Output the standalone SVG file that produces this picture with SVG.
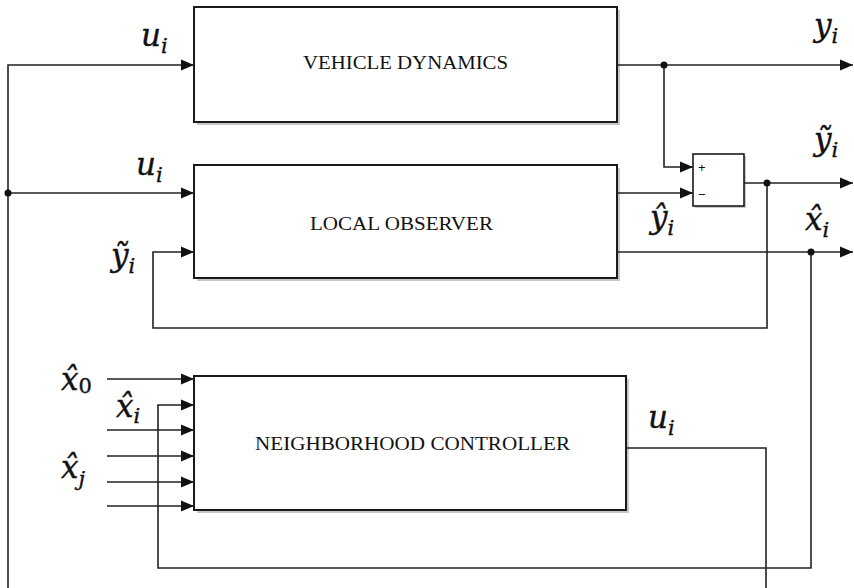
<svg xmlns="http://www.w3.org/2000/svg" width="854" height="588" viewBox="0 0 854 588">
<style>
.box{fill:#fff;stroke:#1a1a1a;stroke-width:2}
.shadow{fill:#9a9a9a;opacity:0.55}
.ln{fill:none;stroke:#222;stroke-width:1.6}
.lbl{font-family:"Liberation Serif","Times New Roman",serif;font-size:18.5px;fill:#111}
.m{font-family:"DejaVu Serif","Liberation Serif",serif;font-style:italic;font-size:31px;fill:#111;stroke:#111;stroke-width:0.4}
.s{font-size:21px}
.up{font-style:normal}
.sm{font-family:"Liberation Sans",Arial,sans-serif;font-size:13px;fill:#111}
</style>
<defs>
<marker id="ah" markerUnits="userSpaceOnUse" markerWidth="13" markerHeight="12" refX="13" refY="6" orient="auto">
<path d="M0,0.5 L13,6 L0,11.5 z" fill="#111"/>
</marker>
</defs>
<rect width="854" height="588" fill="#fff"/>

<g id="vehicle-dynamics">
<rect class="shadow" x="197" y="10" width="423" height="115"/>
<rect class="box" x="194" y="7" width="423" height="115"/>
<text class="lbl" x="405.5" y="69" text-anchor="middle" textLength="205" lengthAdjust="spacingAndGlyphs">VEHICLE DYNAMICS</text>
</g>

<g id="local-observer">
<rect class="shadow" x="197" y="168" width="423" height="113"/>
<rect class="box" x="194" y="165" width="423" height="113"/>
<text class="lbl" x="401.5" y="230" text-anchor="middle" textLength="183" lengthAdjust="spacingAndGlyphs">LOCAL OBSERVER</text>
</g>

<g id="neighborhood-controller">
<rect class="shadow" x="197" y="379" width="432" height="134"/>
<rect class="box" x="194" y="376" width="432" height="134"/>
<text class="lbl" x="412.5" y="450" text-anchor="middle" textLength="315" lengthAdjust="spacingAndGlyphs">NEIGHBORHOOD CONTROLLER</text>
</g>

<g id="sum-block">
<rect class="shadow" x="695" y="156" width="51" height="52"/>
<rect x="693" y="154" width="51" height="52" fill="#fff" stroke="#1a1a1a" stroke-width="1.6"/>
<text class="sm" x="698" y="172">+</text>
<text class="sm" x="698" y="199">−</text>
</g>

<g id="connectors">
<polyline class="ln" points="8,588 8,65 194,65" marker-end="url(#ah)"/>
<polyline class="ln" points="8,193 194,193" marker-end="url(#ah)"/>
<polyline class="ln" points="617,65 853,65" marker-end="url(#ah)"/>
<polyline class="ln" points="664,65 664,167 693,167" marker-end="url(#ah)"/>
<polyline class="ln" points="617,193 693,193" marker-end="url(#ah)"/>
<polyline class="ln" points="744,183 853,183" marker-end="url(#ah)"/>
<polyline class="ln" points="767,183 767,328 153,328 153,252 194,252" marker-end="url(#ah)"/>
<polyline class="ln" points="617,252 853,252" marker-end="url(#ah)"/>
<polyline class="ln" points="811,252 811,568 158,568 158,405 194,405" marker-end="url(#ah)"/>
<polyline class="ln" points="107,379 194,379" marker-end="url(#ah)"/>
<polyline class="ln" points="107,430 194,430" marker-end="url(#ah)"/>
<polyline class="ln" points="107,456 194,456" marker-end="url(#ah)"/>
<polyline class="ln" points="107,482 194,482" marker-end="url(#ah)"/>
<polyline class="ln" points="107,506 194,506" marker-end="url(#ah)"/>
<polyline class="ln" points="626,448 766,448 766,588"/>
<circle cx="8" cy="193" r="3.5" fill="#111"/>
<circle cx="664" cy="65" r="3.5" fill="#111"/>
<circle cx="767" cy="183" r="3.5" fill="#111"/>
<circle cx="811" cy="252" r="3.5" fill="#111"/>
</g>

<g id="labels">
<text class="m" x="141" y="46">u<tspan class="s" dy="7">i</tspan></text>
<text class="m" x="136" y="175">u<tspan class="s" dy="7">i</tspan></text>
<text class="m" x="814" y="36">y<tspan class="s" dy="7">i</tspan></text>
<text class="m" x="814" y="150">ỹ<tspan class="s" dy="7">i</tspan></text>
<text class="m" x="805" y="230">x̂<tspan class="s" dy="7">i</tspan></text>
<text class="m" x="650" y="228">ŷ<tspan class="s" dy="7">i</tspan></text>
<text class="m" x="111" y="266">ỹ<tspan class="s" dy="7">i</tspan></text>
<text class="m" x="61" y="390">x̂<tspan class="s up" dy="3">0</tspan></text>
<text class="m" x="116" y="417">x̂<tspan class="s" dy="6">i</tspan></text>
<text class="m" x="61" y="478">x̂<tspan class="s" dy="8">j</tspan></text>
<text class="m" x="648" y="428">u<tspan class="s" dy="7">i</tspan></text>
</g>
</svg>
